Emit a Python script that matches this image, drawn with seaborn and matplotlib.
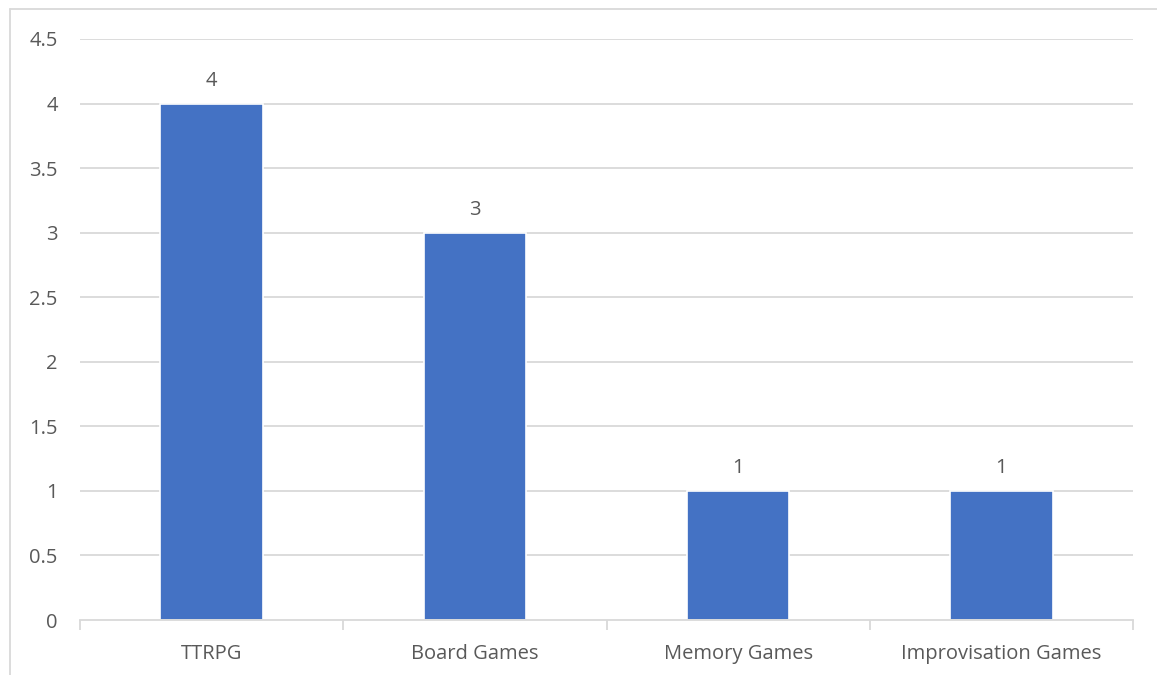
import matplotlib
matplotlib.use("Agg")
import matplotlib.pyplot as plt
import seaborn as sns
import pandas as pd
from matplotlib.lines import Line2D

categories = ["TTRPG", "Board Games", "Memory Games", "Improvisation Games"]
values = [4, 3, 1, 1]
yticks = [0, 0.5, 1, 1.5, 2, 2.5, 3, 3.5, 4, 4.5]
ytick_labels = ["0", "0.5", "1", "1.5", "2", "2.5", "3", "3.5", "4", "4.5"]

sns.set_style("white")
plt.rcParams['font.family'] = ['Open Sans', 'DejaVu Sans']

txt = "#595959"
grid = "#D9D9D9"
bar_color = "#4472C4"
fs = 14.5

fig = plt.figure(figsize=(11.57, 6.75), dpi=100)
ax = fig.add_axes([80/1157, 1-620/675, (1133-80)/1157, (620-39)/675])

df = pd.DataFrame({"cat": categories, "val": values})
sns.barplot(data=df, x="cat", y="val", color=bar_color, width=0.39,
            saturation=1, ax=ax, zorder=3, edgecolor="white", linewidth=1.2)

ax.set_ylim(0, 4.5)
ax.set_xlim(-0.5, len(categories) - 0.5)
ax.set_yticks(yticks)
ax.set_yticklabels(ytick_labels)
ax.set_xlabel("")
ax.set_ylabel("")

for y in yticks[1:]:
    ax.axhline(y, color=grid, lw=1.3, zorder=1)

for s in ["top", "right", "left"]:
    ax.spines[s].set_visible(False)
ax.spines["bottom"].set_color(grid)
ax.spines["bottom"].set_linewidth(1.3)
ax.spines["bottom"].set_zorder(4)

ax.tick_params(axis="y", length=0, pad=16, labelsize=fs, labelcolor=txt)
ax.tick_params(axis="x", which="major", length=0, pad=17, labelsize=fs, labelcolor=txt)
ax.set_xticks([i - 0.5 for i in range(len(categories) + 1)], minor=True)
ax.tick_params(axis="x", which="minor", bottom=True, length=7, width=1.3, color=grid, direction="out")

for p, v in zip(ax.patches, values):
    ax.annotate(f"{v}", (p.get_x() + p.get_width() / 2, p.get_height()),
                xytext=(0, 9), textcoords="offset points", ha="center", va="bottom",
                fontsize=fs, color=txt)

# outer chart border
fig.add_artist(Line2D([10/1157, 10/1157], [0, 1-9/675], transform=fig.transFigure, color=grid, lw=1.3))
fig.add_artist(Line2D([10/1157, 1], [1-9/675, 1-9/675], transform=fig.transFigure, color=grid, lw=1.3))

fig.savefig("out.png", dpi=100)
